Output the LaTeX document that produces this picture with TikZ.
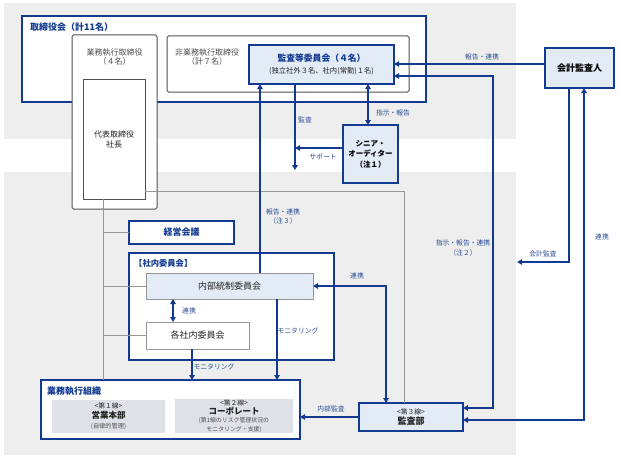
\documentclass[tikz,border=0pt]{standalone}
\usepackage{fontspec}
\setmainfont{Noto Sans CJK JP}
\usetikzlibrary{arrows.meta}
\definecolor{navy}{RGB}{18,58,145}
\definecolor{lblue}{RGB}{45,78,150}
\definecolor{bgray}{RGB}{237,238,237}
\definecolor{pblue}{RGB}{226,235,246}
\definecolor{pgray}{RGB}{222,225,232}
\definecolor{dgray}{RGB}{80,80,80}
\definecolor{mgray}{RGB}{150,150,150}
\definecolor{txt}{RGB}{35,35,35}
\newcommand\myfs[2]{\fontsize{#1}{#2}\selectfont}
\tikzset{
  box/.style={draw, outer sep=0pt, inner sep=1pt, align=center, text=txt, font=\myfs{9pt}{11pt}},
  navybox/.style={box, draw=navy, line width=1.4pt},
  graybox/.style={box, draw=mgray, line width=1pt},
  dgraybox/.style={box, draw=dgray, line width=1pt, rounded corners=1.5pt},
  ttl/.style={anchor=west, inner sep=0pt, text=navy, font=\bfseries\myfs{8.5pt}{10pt}},
  lbl/.style={inner sep=0pt, align=center, text=lblue, font=\myfs{6.8pt}{9pt}},
  gline/.style={draw=mgray, line width=1pt},
  bline/.style={draw=navy, line width=1.7pt},
  arr/.style={bline, -{Triangle[length=5pt,width=5.5pt]}},
  darr/.style={bline, {Triangle[length=5pt,width=5.5pt]}-{Triangle[length=5pt,width=5.5pt]}},
}
\begin{document}
\begin{tikzpicture}[x=1pt,y=-1pt]
\useasboundingbox (0,0) rectangle (620,460);
% background panels
\fill[bgray] (4,3) rectangle (516,139);
\fill[bgray] (4,172) rectangle (516,455);

% board of directors
\node[navybox, fill=white, minimum width=404pt, minimum height=86pt] (bod) at (224,59) {};
\node[ttl, font=\bfseries\myfs{9pt}{10pt}] (bodt) at (30,27) {取締役会（計11名）};
\node[dgraybox, fill=white, minimum width=85pt, minimum height=174pt] (exec) at (114.5,122) {};
\node[box, draw=none, text=dgray, font=\myfs{8pt}{9.5pt}] (exect) at (114.5,57) {業務執行取締役\\（４名）};
\node[graybox, draw=dgray, fill=white, minimum width=62pt, minimum height=120pt, font=\myfs{8pt}{10pt}] (rep) at (114,139) {代表取締役\\社長};
\node[dgraybox, fill=white, minimum width=242pt, minimum height=56pt] (nonexec) at (288,64) {};
\node[box, draw=none, text=dgray, font=\myfs{8pt}{9.5pt}] (nonexect) at (207,57) {非業務執行取締役\\（計７名）};
\node[navybox, fill=pblue, minimum width=145pt, minimum height=39pt, font=\myfs{8pt}{12pt}] (ac) at (321.5,64.5)
  {{\bfseries\color{navy}\myfs{8.8pt}{12pt}監査等委員会（４名）}\\{\myfs{7.3pt}{12pt}(独立社外３名、社内(常勤)１名)}};
\node[navybox, fill=pblue, minimum width=69pt, minimum height=40pt, font=\bfseries\myfs{9pt}{11pt}, text=black] (ea) at (579.5,68) {会計監査人};
\node[navybox, fill=pblue, minimum width=55pt, minimum height=58pt, font=\bfseries\myfs{7.5pt}{10.5pt}, text=black] (sa) at (370.5,154) {シニア・\\オーディター\\（注１）};

% management
\node[navybox, fill=white, minimum width=105pt, minimum height=23pt, font=\bfseries\myfs{9pt}{11pt}, text=navy] (mgmt) at (181.5,232.5) {経営会議};
\node[navybox, fill=white, minimum width=205pt, minimum height=107pt] (icom) at (231.5,306.5) {};
\node[ttl, font=\bfseries\myfs{8.3pt}{10pt}] (icomt) at (134,263) {【社内委員会】};
\node[graybox, fill=pblue, minimum width=167pt, minimum height=26pt] (ic) at (229.5,286) {内部統制委員会};
\node[graybox, fill=white, minimum width=103pt, minimum height=27pt] (each) at (197.5,335.5) {各社内委員会};

% business organization
\node[navybox, fill=white, minimum width=259pt, minimum height=59pt] (org) at (170.5,409.5) {};
\node[ttl, font=\bfseries\myfs{9pt}{10pt}] (orgt) at (47,391) {業務執行組織};
\node[box, draw=none, fill=pgray, minimum width=113pt, minimum height=33pt, inner sep=0pt, font=\myfs{7pt}{10pt}] (sales) at (108.5,416.5)
  {{\myfs{6.8pt}{10pt}<第１線>}\\{\bfseries\myfs{8.5pt}{10pt}営業本部}\\{\color{dgray}\myfs{6.2pt}{10pt}(自律的管理)}};
\node[box, draw=none, fill=pgray, minimum width=118pt, minimum height=34pt, inner sep=0pt, font=\myfs{7pt}{8.6pt}] (corp) at (234,416)
  {{\myfs{6.8pt}{8.6pt}<第２線>}\\{\bfseries\myfs{8.5pt}{8.6pt}コーポレート}\\{\color{dgray}\myfs{5.9pt}{8.6pt}(第1線のリスク管理状況の}\\{\color{dgray}\myfs{5.9pt}{8.6pt}モニタリング・支援)}};
\node[navybox, fill=pblue, minimum width=104pt, minimum height=28pt, inner sep=0pt, font=\myfs{7pt}{10pt}] (audit) at (411,417)
  {{\myfs{6.8pt}{10pt}<第３線>}\\{\bfseries\myfs{9pt}{10pt}監査部}};

% coordinates
\coordinate (xg) at (103,0);
\coordinate (ya) at (0,191);
\coordinate (xb) at (404,0);
\coordinate (x1) at (260,0);
\coordinate (x2) at (295,0);
\coordinate (kend) at (295,170);
\coordinate (sup) at (295,148);
\coordinate (x4) at (368,0);
\coordinate (y5) at (0,64);
\coordinate (y6a) at (0,76);
\coordinate (y6b) at (0,408);
\coordinate (x6) at (493,0);
\coordinate (x7) at (569,0);
\coordinate (kaend) at (517,262);
\coordinate (x8) at (584,0);
\coordinate (y8) at (0,420);
\coordinate (x9) at (386,0);
\coordinate (x10) at (277,0);
\coordinate (x11) at (192,0);
\coordinate (x12) at (173,0);

% gray lines
\draw[gline] (rep.south -| xg) -- (org.north -| xg);
\draw[gline] (xg |- mgmt.west) -- (mgmt.west);
\draw[gline] (xg |- ic.west) -- (ic.west);
\draw[gline] (xg |- each.west) -- (each.west);
\draw[gline] (rep.east |- ya) -| (audit.north -| xb);

% blue connectors
\draw[arr] (ic.north -| x1) -- (ac.south -| x1);
\draw[arr] (ac.south -| x2) -- (kend);
\draw[arr] (sa.west |- sup) -- (sup);
\draw[darr] (ac.south -| x4) -- (sa.north -| x4);
\draw[arr] (ea.west |- y5) -- (ac.east |- y5);
\draw[darr] (ac.east |- y6a) -| (x6 |- y6b) -- (audit.east |- y6b);
\draw[arr] (ea.south -| x7) |- (kaend);
\draw[darr] (audit.east |- y8) -| (ea.south -| x8);
\draw[darr] (ic.east) -| (audit.north -| x9);
\draw[arr] (ic.south -| x10) -- (org.north -| x10);
\draw[arr] (each.south -| x11) -- (org.north -| x11);
\draw[darr] (ic.south -| x12) -- (each.north -| x12);
\draw[arr] (audit.west) -- (org.east |- audit.west);

% labels
\node[lbl] (l1) at (283,216) {報告・連携\\（注３）};
\node[lbl] (l2) at (305,120) {監査};
\node[lbl] (l3) at (323,157) {サポート};
\node[lbl] (l4) at (393,113) {指示・報告};
\node[lbl] (l5) at (482,57) {報告・連携};
\node[lbl, font=\myfs{6.8pt}{9.5pt}] (l6) at (463,248) {指示・報告・連携\\（注２）};
\node[lbl] (l7) at (543,254) {会計監査};
\node[lbl] (l8) at (602,237) {連携};
\node[lbl] (l9) at (357,276) {連携};
\node[lbl] (l10) at (298,331) {モニタリング};
\node[lbl] (l11) at (214,367) {モニタリング};
\node[lbl] (l12) at (189,311) {連携};
\node[lbl] (l13) at (331,409) {内部監査};
\end{tikzpicture}
\end{document}
